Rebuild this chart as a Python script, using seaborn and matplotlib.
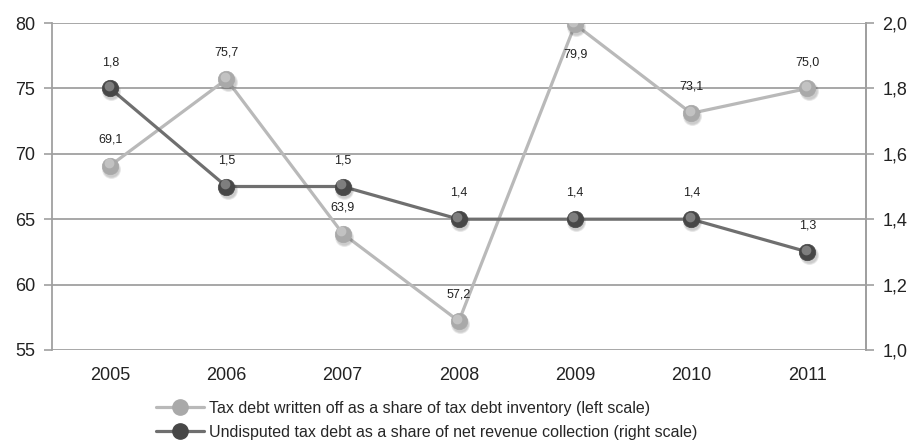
import matplotlib
matplotlib.use("Agg")
import matplotlib.pyplot as plt
import matplotlib.transforms as mtransforms
import seaborn as sns
import pandas as pd

years = ["2005", "2006", "2007", "2008", "2009", "2010", "2011"]
written_off = [69.1, 75.7, 63.9, 57.2, 79.9, 73.1, 75.0]
undisputed = [1.8, 1.5, 1.5, 1.4, 1.4, 1.4, 1.3]
left_ticks = [55, 60, 65, 70, 75, 80]
right_ticks = [1.0, 1.2, 1.4, 1.6, 1.8, 2.0]
label_written = "Tax debt written off as a share of tax debt inventory (left scale)"
label_undisputed = "Undisputed tax debt as a share of net revenue collection (right scale)"

sns.set_theme(style="white")
plt.rcParams["font.family"] = ["Liberation Sans", "DejaVu Sans"]

df_w = pd.DataFrame({"year": years, "value": written_off})
df_u = pd.DataFrame({"year": years, "value": undisputed})

fig = plt.figure(figsize=(9.15, 4.43), dpi=100)
ax = fig.add_axes([0.057, 0.21, 0.889, 0.738])
ax2 = ax.twinx()

light_line = "#b9b9b9"
light_face = "#a9a9a9"
dark_line = "#6f6f6f"
dark_face = "#474747"
grid_col = "#a0a0a0"
LW = 2.3


def sphere(axis, df, face, size):
    # soft shadow, body, and a highlight to give the markers a rounded look
    shadow = mtransforms.offset_copy(axis.transData, fig=fig, x=0.8, y=-2.2, units="points")
    for k in (1.35, 1.15, 0.95):
        axis.scatter(df["year"], df["value"], s=size * k, color="#000000", alpha=0.07,
                     transform=shadow, zorder=3, linewidths=0)
    axis.scatter(df["year"], df["value"], s=size, color=face, edgecolors=face,
                 linewidths=0.5, zorder=4)
    hl = mtransforms.offset_copy(axis.transData, fig=fig, x=-1.2, y=1.5, units="points")
    axis.scatter(df["year"], df["value"], s=size * 0.35, color="white", alpha=0.3,
                 transform=hl, zorder=5, linewidths=0)


# left scale series
sns.lineplot(data=df_w, x="year", y="value", ax=ax, color=light_line, linewidth=LW,
             sort=False, zorder=2, legend=False)
sphere(ax, df_w, light_face, 140)

# right scale series
sns.lineplot(data=df_u, x="year", y="value", ax=ax2, color=dark_line, linewidth=LW,
             sort=False, zorder=2, legend=False)
sphere(ax2, df_u, dark_face, 140)

ax.set_ylim(55, 80)
ax2.set_ylim(1.0, 2.0)
ax.set_xlim(-0.5, len(years) - 0.5)

ax.set_yticks(left_ticks)
ax.set_yticklabels([str(t) for t in left_ticks], fontsize=13, color="#222222")
ax2.set_yticks(right_ticks)
ax2.set_yticklabels([f"{t:.1f}".replace(".", ",") for t in right_ticks], fontsize=13,
                    color="#222222")

ax.set_xticks(range(len(years)))
ax.set_xticklabels(years, fontsize=13, color="#222222")
ax.set_xticks([i - 0.5 for i in range(len(years) + 1)], minor=True)
ax.tick_params(axis="x", which="major", length=0, pad=12)
ax.tick_params(axis="x", which="minor", length=5, color=grid_col, width=1.2)
ax.tick_params(axis="y", length=6, color=grid_col, width=1.2, pad=6)
ax2.tick_params(axis="y", length=6, color=grid_col, width=1.2, pad=6)

ax.set_xlabel("")
ax.set_ylabel("")
ax2.set_xlabel("")
ax2.set_ylabel("")

for t in left_ticks:
    ax.axhline(t, color=grid_col, linewidth=1.3, zorder=0)

for a in (ax, ax2):
    a.spines["top"].set_visible(False)
    a.spines["bottom"].set_visible(False)
    a.spines["left"].set_color(grid_col)
    a.spines["right"].set_color(grid_col)
    a.spines["left"].set_linewidth(1.3)
    a.spines["right"].set_linewidth(1.3)
ax2.spines["left"].set_visible(False)

# value labels
for i, v in enumerate(written_off):
    off = -22 if v > 79 else 19
    ax.annotate(f"{v:.1f}".replace(".", ","), (i, v), xytext=(0, off),
                textcoords="offset points", ha="center", va="center",
                fontsize=9, color="#222222", zorder=6)
for i, v in enumerate(undisputed):
    ax2.annotate(f"{v:.1f}".replace(".", ","), (i, v), xytext=(0, 19),
                 textcoords="offset points", ha="center", va="center",
                 fontsize=9, color="#222222", zorder=6)

# legend
h1, = ax.plot([], [], color=light_line, linewidth=LW, marker="o", markersize=11,
              markerfacecolor=light_face, markeredgecolor=light_face)
h2, = ax.plot([], [], color=dark_line, linewidth=LW, marker="o", markersize=11,
              markerfacecolor=dark_face, markeredgecolor=dark_face)
fig.legend([h1, h2], [label_written, label_undisputed], loc="upper left",
           bbox_to_anchor=(0.171, 0.095), frameon=False, fontsize=11.5,
           handlelength=3.0, handletextpad=0.3, labelspacing=0.55, borderpad=0,
           borderaxespad=0)

fig.savefig("out.png", dpi=100)
